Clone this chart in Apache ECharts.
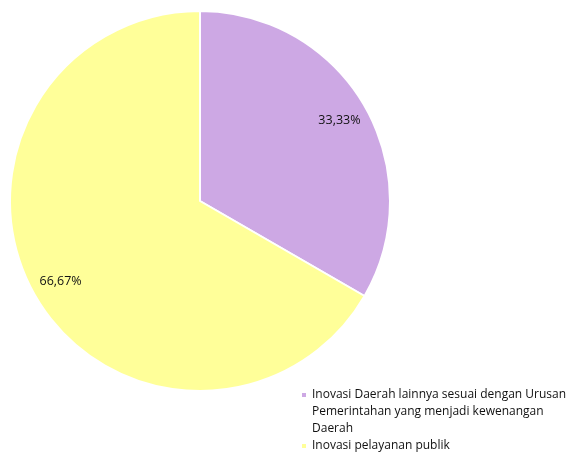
<!DOCTYPE html>
<html>
<head>
<meta charset="utf-8">
<script src="https://cdn.jsdelivr.net/npm/echarts@6/dist/echarts.min.js"></script>
<style>
  html, body { margin: 0; padding: 0; background: #ffffff; }
  #chart { width: 575px; height: 452px; }
</style>
</head>
<body>
<div id="chart"></div>
<script>
// Categories and values of the pie
const categories = [
  'Inovasi Daerah lainnya sesuai dengan Urusan Pemerintahan yang menjadi kewenangan Daerah',
  'Inovasi pelayanan publik'
];
// Legend text broken into lines; two blank lines on top keep the marker beside the first line
const legendLines = [
  ' \n \nInovasi Daerah lainnya sesuai dengan Urusan\nPemerintahan yang menjadi kewenangan\nDaerah',
  'Inovasi pelayanan publik'
];
const values = [1, 2];
const colors = ['#CDA8E4', '#FFFF99'];

const FONT = '"Open Sans", "Noto Sans", sans-serif';
const pieData = categories.map((name, i) => ({ name, value: values[i], itemStyle: { color: colors[i] } }));
const fmtPct = p => p.percent.toFixed(2).replace('.', ',') + '%';

const legendBase = {
  orient: 'vertical',
  left: 300,
  padding: 0,
  icon: 'rect',
  itemWidth: 6,
  itemHeight: 6,
  selectedMode: false,
  textStyle: { fontFamily: FONT, fontSize: 12, color: '#111111', lineHeight: 17 }
};

const chart = echarts.init(document.getElementById('chart'));
chart.setOption({
  animation: false,
  color: colors,
  legend: [
    Object.assign({}, legendBase, { data: [categories[0]], top: 352.5, formatter: () => legendLines[0] }),
    Object.assign({}, legendBase, { data: [categories[1]], top: 437.5, formatter: () => legendLines[1] })
  ],
  series: [
    {
      type: 'pie',
      center: [200, 201],
      radius: [0, 190],
      startAngle: 90,
      clockwise: true,
      data: pieData,
      itemStyle: { borderColor: '#ffffff', borderWidth: 2 },
      label: { show: false },
      labelLine: { show: false },
      emphasis: { disabled: true }
    },
    {
      // invisible ring used only to place the percentage labels toward the rim
      type: 'pie',
      center: [200, 201],
      radius: [126, 190],
      startAngle: 90,
      clockwise: true,
      silent: true,
      data: pieData,
      itemStyle: { opacity: 0, borderWidth: 0 },
      label: {
        show: true,
        position: 'inside',
        formatter: fmtPct,
        fontFamily: FONT,
        fontSize: 12.5,
        color: '#111111',
        opacity: 1
      },
      labelLine: { show: false },
      emphasis: { disabled: true }
    }
  ]
});
</script>
</body>
</html>
